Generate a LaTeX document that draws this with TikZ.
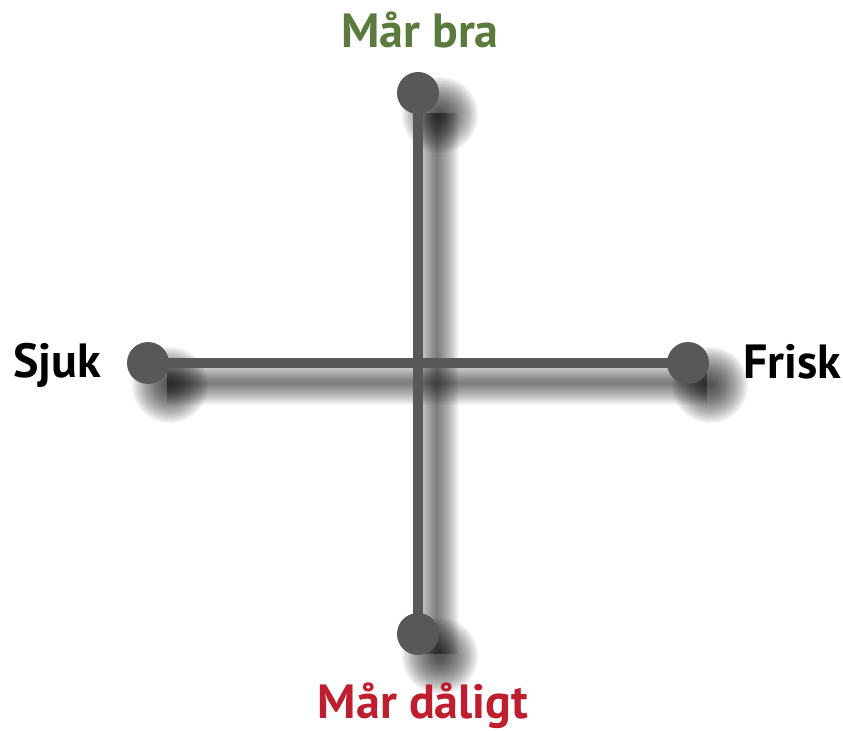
\documentclass[tikz,border=0pt]{standalone}
\usepackage{fontspec}
\setmainfont{PT Sans}
\usepackage{tikz}
\usetikzlibrary{positioning}
\definecolor{axisgray}{RGB}{88,88,90}
\definecolor{goodgreen}{RGB}{91,122,62}
\definecolor{badred}{RGB}{190,30,45}

\begin{document}
\begin{tikzpicture}[x=0.75pt,y=-0.75pt,
		dot/.style={circle,fill=axisgray,inner sep=0pt,minimum size=31.5pt},
		axisline/.style={axisgray,line width=7.5pt},
		lineshadow/.style={black,opacity=0.03},
		dotshadow/.style={black,opacity=0.06},
		lbl/.style={font=\fontsize{36}{42}\selectfont\bfseries,inner sep=0pt}]
	\useasboundingbox (0,0) rectangle (843,731);

	% end points of the two axes
	\coordinate (t) at (418,93);
	\coordinate (b) at (418,634);
	\coordinate (l) at (148,363);
	\coordinate (r) at (688,363);

	% soft shadows
	\foreach \w in {1,...,22}{
		\draw[lineshadow,line width=\w*1.5pt] ([shift={(19,20)}]t) -- ([shift={(19,20)}]b);
		\draw[lineshadow,line width=\w*1.5pt] ([shift={(19,20)}]l) -- ([shift={(19,20)}]r);
	}
	\foreach \c in {t,b,l,r}{
		\foreach \rr in {4,6,...,38}
			\fill[dotshadow] ([shift={(22,22)}]\c) circle[radius=\rr*0.75pt];
	}

	% axes
	\draw[axisline] (t) -- (b);
	\draw[axisline] (l) -- (r);

	\node[dot] (top) at (t) {};
	\node[dot] (bottom) at (b) {};
	\node[dot] (left) at (l) {};
	\node[dot] (right) at (r) {};

	% labels
	\node[lbl,text=goodgreen,anchor=base] (good) at (420,48) {Mår bra};
	\node[lbl,text=badred,anchor=base] (bad) at (423,718) {Mår dåligt};
	\node[lbl,anchor=base east] (sick) at (101,377) {Sjuk};
	\node[lbl,anchor=base west] (well) at (743,378) {Frisk};
\end{tikzpicture}
\end{document}
